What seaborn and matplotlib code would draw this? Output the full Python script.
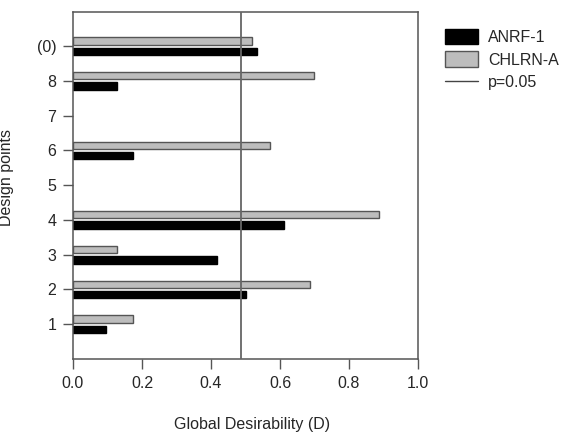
import matplotlib
matplotlib.use("Agg")
import matplotlib.pyplot as plt
import seaborn as sns
import numpy as np
import pandas as pd
from matplotlib.patches import Patch
from matplotlib.lines import Line2D

# Data (top to bottom on the chart)
design_points = ["(0)", "8", "7", "6", "5", "4", "3", "2", "1"]
anrf1 = [0.532, 0.128, np.nan, 0.174, np.nan, 0.612, 0.417, 0.501, 0.095]
chlrna = [0.520, 0.700, np.nan, 0.572, np.nan, 0.888, 0.128, 0.688, 0.173]
p_threshold = 0.487
series_names = ["ANRF-1", "CHLRN-A"]

df = pd.DataFrame({
    "point": design_points * 2,
    "D": anrf1 + chlrna,
    "series": [series_names[0]] * len(design_points) + [series_names[1]] * len(design_points),
})

sns.set_style("white")
plt.rcParams["font.family"] = ["Liberation Sans", "DejaVu Sans"]

fig = plt.figure(figsize=(5.65, 4.34), dpi=100)
ax = fig.add_axes([73 / 565, 1 - 359 / 434, (418 - 73) / 565, (359 - 12) / 434])

palette = {"ANRF-1": "#000000", "CHLRN-A": "#bdbdbd"}
sns.barplot(data=df, y="point", x="D", hue="series", order=design_points,
            hue_order=["CHLRN-A", "ANRF-1"], palette=palette, orient="h",
            width=0.6, gap=0.3, errorbar=None, ax=ax, legend=False,
            linewidth=1.0, edgecolor="#555555")
for patch in ax.patches:
    fc = patch.get_facecolor()
    if fc[0] < 0.2:
        patch.set_edgecolor("#000000")

ax.axvline(p_threshold, color="#666666", lw=1.3, zorder=3)

ax.set_xlim(0, 1.0)
ax.set_ylim(9.0, -0.98)
ax.set_xticks([0, 0.2, 0.4, 0.6, 0.8, 1.0])
ax.set_xticklabels(["0.0", "0.2", "0.4", "0.6", "0.8", "1.0"])
ax.tick_params(axis="both", direction="out", length=7, width=1, color="#555555",
               labelsize=11.5, pad=5, left=True, bottom=True)
for s in ax.spines.values():
    s.set_visible(True)
    s.set_color("#555555")
    s.set_linewidth(1.1)

ax.set_ylabel("Design points", fontsize=11.5)
ax.set_xlabel("Global Desirability (D)", fontsize=11.5)
ax.yaxis.set_label_coords(-0.172, 0.524)
ax.xaxis.set_label_coords(0.519, -0.168)

handles = [Patch(facecolor="#000000", edgecolor="#000000"),
           Patch(facecolor="#bdbdbd", edgecolor="#555555"),
           Line2D([0], [0], color="#444444", lw=1)]
fig.legend(handles, ["ANRF-1", "CHLRN-A", "p=0.05"], loc="upper left",
           bbox_to_anchor=(445 / 565, 1 - 29 / 434), frameon=False,
           fontsize=11.5, handlelength=2.05, handleheight=1.1,
           handletextpad=0.65, labelspacing=0.4, borderaxespad=0,
           borderpad=0)

fig.savefig("out.png", dpi=100)
